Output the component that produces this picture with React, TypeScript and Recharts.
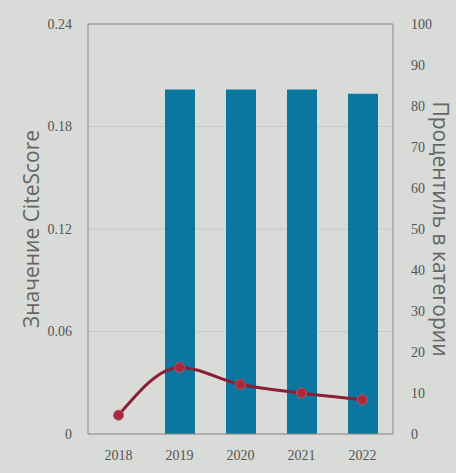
import React from 'react'
import {
   Bar,
   CartesianGrid,
   ComposedChart,
   Line,
   ReferenceLine,
   XAxis,
   YAxis,
} from 'recharts'

const years = ['2018', '2019', '2020', '2021', '2022']
const citeScore = [0.011, 0.039, 0.029, 0.024, 0.02]
const percentile = [null, 84, 84, 84, 83]
const leftTicks = [0, 0.06, 0.12, 0.18, 0.24]
const rightTicks = [0, 10, 20, 30, 40, 50, 60, 70, 80, 90, 100]

const data = years.map((year, i) => ({
   year,
   citeScore: citeScore[i],
   percentile: percentile[i],
}))

const tickStyle = {
   fontFamily: '"Liberation Serif", serif',
   fontSize: 14,
   fill: '#555',
}

const labelStyle = {
   fontFamily: '"Open Sans", sans-serif',
   fontSize: 21,
   fill: '#666',
}

export default function App() {
   return (
      <div
         style={{
            position: 'fixed',
            left: 0,
            top: 0,
            width: 456,
            height: 473,
            background: '#d8dbd8',
         }}
      >
         <ComposedChart
            width={456}
            height={473}
            data={data}
            margin={{ top: 24, right: 0, bottom: 0, left: 0 }}
            barCategoryGap={0}
         >
            <CartesianGrid vertical={false} stroke="#c6c9c6" yAxisId="left" />
            <XAxis
               dataKey="year"
               height={39}
               tick={tickStyle}
               tickLine={false}
               axisLine={{ stroke: '#8a8a8a' }}
               tickMargin={10}
            />
            <YAxis
               yAxisId="left"
               width={88}
               domain={[0, 0.24]}
               ticks={leftTicks}
               tick={tickStyle}
               tickLine={false}
               axisLine={{ stroke: '#8a8a8a' }}
               tickMargin={10}
               label={{
                  value: 'Значение CiteScore',
                  angle: -90,
                  position: 'insideLeft',
                  offset: 32,
                  style: { ...labelStyle, textAnchor: 'middle' },
               }}
            />
            <YAxis
               yAxisId="right"
               orientation="right"
               width={63}
               domain={[0, 100]}
               ticks={rightTicks}
               tick={tickStyle}
               tickLine={false}
               axisLine={{ stroke: '#8a8a8a' }}
               tickMargin={12}
               label={{
                  value: 'Процентиль в категории',
                  angle: 90,
                  position: 'insideRight',
                  offset: 16,
                  style: { ...labelStyle, textAnchor: 'middle' },
               }}
            />
            <ReferenceLine yAxisId="left" y={0.24} stroke="#8a8a8a" />
            <Bar
               yAxisId="right"
               dataKey="percentile"
               fill="#0b77a0"
               barSize={30}
               isAnimationActive={false}
            />
            <Line
               yAxisId="left"
               type="monotone"
               dataKey="citeScore"
               stroke="#8a2035"
               strokeWidth={3}
               dot={{ r: 5, fill: '#a82a40', stroke: '#c05060', strokeWidth: 1 }}
               activeDot={false}
               isAnimationActive={false}
            />
         </ComposedChart>
      </div>
   )
}
